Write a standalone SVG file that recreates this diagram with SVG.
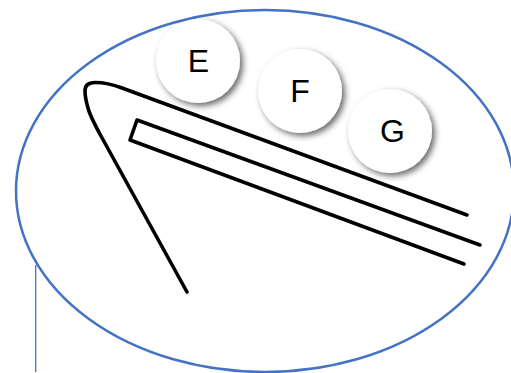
<svg xmlns="http://www.w3.org/2000/svg" width="511" height="373" viewBox="0 0 511 373">
<defs>
<filter id="shadow" x="-30%" y="-30%" width="170%" height="170%">
<feDropShadow dx="3" dy="3" stdDeviation="3.2" flood-color="#000" flood-opacity="0.6"/>
</filter>
<filter id="soft" x="-5%" y="-5%" width="110%" height="110%"><feGaussianBlur stdDeviation="0.5"/></filter>
</defs>
<style>
.boundary{fill:#fff;stroke:#4472c4;stroke-width:2.5}
.leader{fill:none;stroke:#4472c4;stroke-width:1.3}
.ink{fill:none;stroke:#000;stroke-width:3.6;stroke-linecap:round;stroke-linejoin:round}
.disc{fill:#fff;filter:url(#shadow)}
.label{font-family:"Liberation Sans",Arial,sans-serif;font-size:32px;fill:#000;text-anchor:middle}
</style>
<rect width="511" height="373" fill="#fff"/>
<g id="connectors">
<path class="leader" d="M35.700 265V372"/>
</g>
<g id="outer-ellipse">
<ellipse class="boundary" cx="265" cy="191" rx="249" ry="181"/>
</g>
<g id="wedge" filter="url(#soft)">
<path class="ink" d="M187 292L101 136C95 125 90 116 88 108C86 101 85 95 85 91C85 85 89 82.500 95 82.500C104 82.500 113 84.500 122 88L467 215"/>
<path class="ink" d="M480 245L137 120L130 140L464 264"/>
</g>
<g id="node-e">
<circle class="disc" cx="198" cy="61" r="42"/>
<text class="label" x="198.500" y="72">E</text>
</g>
<g id="node-f">
<circle class="disc" cx="300" cy="91" r="42"/>
<text class="label" x="300" y="102">F</text>
</g>
<g id="node-g">
<circle class="disc" cx="390" cy="131" r="42"/>
<text class="label" x="392.500" y="142">G</text>
</g>
</svg>
